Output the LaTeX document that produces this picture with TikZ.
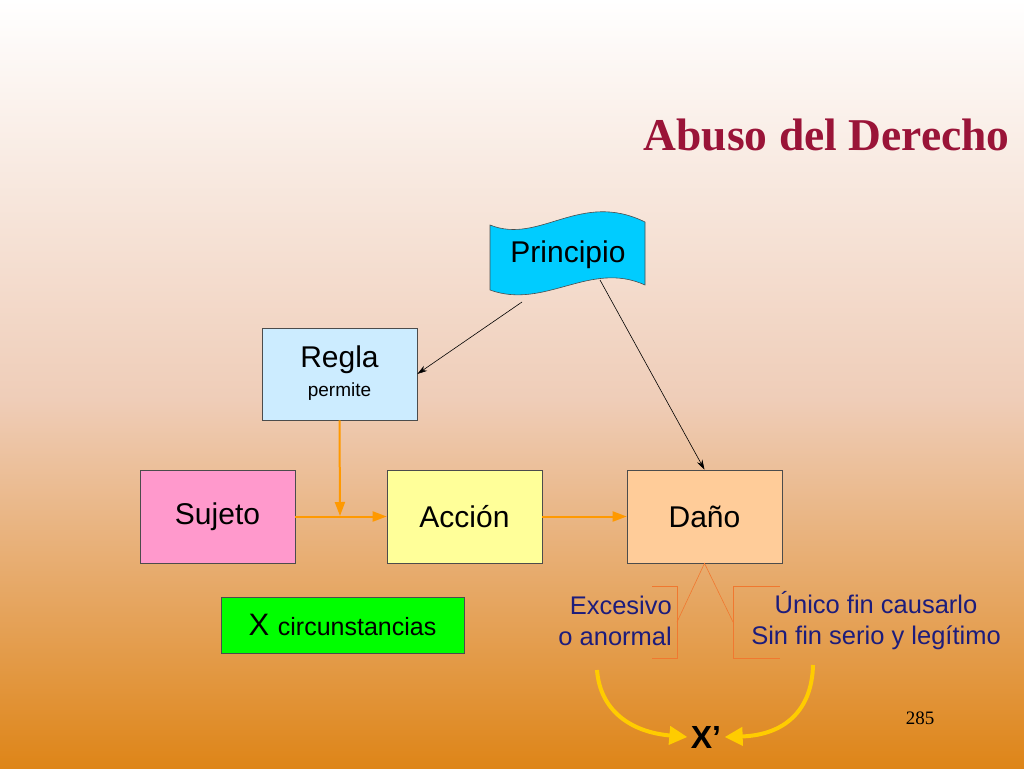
\documentclass[tikz,border=0pt]{standalone}
\usepackage{fontspec}
\setmainfont{Liberation Sans}
\newfontfamily\serif{Liberation Serif}
\usetikzlibrary{arrows.meta}
\definecolor{bgtop}{HTML}{FFFFFF}
\definecolor{bgmid}{HTML}{EFCDB8}
\definecolor{bgbot}{HTML}{DE8518}
\definecolor{titlec}{HTML}{9A1438}
\definecolor{navy}{HTML}{1C1C7C}
\definecolor{brk}{HTML}{F07830}
\tikzset{
  x=1pt,y=-1pt,
  box/.style={draw=black!70,line width=0.6pt,minimum width=155pt,minimum height=93pt,font=\fontsize{30}{32}\selectfont,inner sep=0pt},
  oarr/.style={draw={rgb,255:red,255;green,153;blue,0},line width=2pt,-{Triangle[length=14pt,width=10pt]}},
  barr/.style={draw=black,line width=0.6pt,-{Stealth[length=10pt,width=6pt]}},
  yarr/.style={draw={rgb,255:red,255;green,204;blue,0},line width=4pt,-{Triangle[length=18pt,width=18pt]}},
  lbl/.style={text=navy,font=\fontsize{25.5}{31}\selectfont,inner sep=0pt},
  brack/.style={draw=brk,line width=0.6pt}
}
\begin{document}
\begin{tikzpicture}
\shade[top color=bgtop,bottom color=bgmid] (0,0) rectangle (1024,400);
\shade[top color=bgmid,bottom color=bgbot] (0,399) rectangle (1024,768);
\useasboundingbox (0,0) rectangle (1024,768);
\node[anchor=east,text=titlec,font=\serif\bfseries\fontsize{45.5}{48}\selectfont] (title) at (1013,135) {Abuso del Derecho};
\node[font=\serif\fontsize{19}{22}\selectfont] (pg) at (920,718) {285};
% Principio flag
\filldraw[fill={rgb,255:red,0;green,204;blue,255},draw=black!70,line width=0.6pt]
  (490,225) .. controls (540,245) and (580,190) .. (645,222)
  -- (645,285) .. controls (590,260) and (545,310) .. (490,290) -- cycle;
\node[font=\fontsize{30}{32}\selectfont] (prin) at (568,255) {Principio};
\coordinate (p1) at (522,302);
\coordinate (p2) at (600,280);
\node[box,fill={rgb,255:red,204;green,236;blue,255},minimum height=92pt,align=center] (regla) at (339.5,374) {};
\node[font=\fontsize{30}{32}\selectfont] (reglat) at (339.5,360) {Regla};
\node[font=\fontsize{19}{21}\selectfont] (permite) at (339.5,392) {permite};
\node[box,fill={rgb,255:red,255;green,153;blue,204}] (suj) at (217.5,516.5) {Sujeto};
\node[box,fill={rgb,255:red,255;green,255;blue,153}] (acc) at (464.5,516.5) {Acción};
\node[box,fill={rgb,255:red,255;green,204;blue,153}] (dano) at (704.5,516.5) {Daño};
\node[draw=black!70,line width=0.6pt,fill={rgb,255:red,0;green,255;blue,0},minimum width=243pt,minimum height=56pt,inner sep=0pt] (xc) at (342.5,625) {\fontsize{31}{32}\selectfont X \fontsize{25}{28}\selectfont circunstancias};
\draw[barr] (p1) -- (regla.east);
\draw[barr] (p2) -- (dano.north);
\coordinate (j) at (340,516);
\draw[oarr] (regla.south) -- (j);
\draw[oarr] (suj.east) -- (acc.west);
\draw[oarr] (acc.east) -- (dano.west);
% brackets
\draw[brack] (652,586) -- (677,586) -- (677,658) -- (652,658);
\draw[brack] (780,586) -- (733,586) -- (733,658) -- (780,658);
\draw[brack] (677,622) -- (dano.south) -- (733,622);
\node[lbl,anchor=east,align=right] (exc) at (672,621) {Excesivo\\o anormal};
\node[lbl,align=center] (uni) at (876,621) {Único fin causarlo\\Sin fin serio y legítimo};
\node[font=\bfseries\fontsize{32}{34}\selectfont] (xp) at (706,737) {X’};
\draw[yarr] (597,670) .. controls (600,710) and (630,732) .. (xp.west);
\draw[yarr] (813,665) .. controls (812,710) and (785,735) .. (xp.east);
\end{tikzpicture}
\end{document}
